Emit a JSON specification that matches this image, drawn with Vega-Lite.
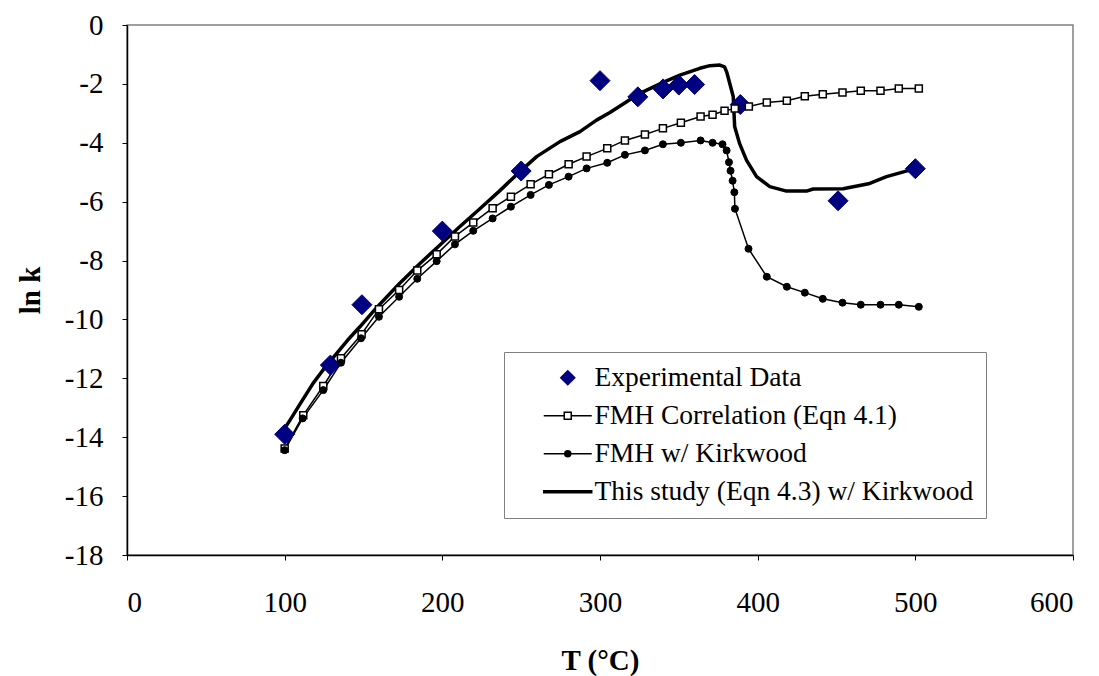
{
  "$schema": "https://vega.github.io/schema/vega-lite/v6.json",
  "width": 946,
  "height": 530,
  "autosize": {"type": "none"},
  "padding": {"left": 127, "top": 25, "right": 26, "bottom": 121},
  "background": "white",
  "config": {
    "font": "Liberation Serif",
    "view": {"stroke": "#808080", "strokeWidth": 1.5},
    "axis": {
      "grid": false,
      "domainColor": "#000000",
      "domainWidth": 1.5,
      "tickColor": "#000000",
      "tickWidth": 1,
      "tickSize": 5,
      "labelFont": "Liberation Serif",
      "labelFontSize": 29,
      "labelColor": "#000000",
      "titleFont": "Liberation Serif",
      "titleFontSize": 29,
      "titleFontWeight": "bold",
      "titleColor": "#000000"
    },
    "legend": {
      "labelFont": "Liberation Serif",
      "labelFontSize": 27.5,
      "labelColor": "#000000",
      "labelLimit": 0
    }
  },
  "data": {
    "values": [
      {"series": "Experimental Data", "T": 100, "lnk": -13.9},
      {"series": "Experimental Data", "T": 129, "lnk": -11.55},
      {"series": "Experimental Data", "T": 149, "lnk": -9.5},
      {"series": "Experimental Data", "T": 200, "lnk": -7.0},
      {"series": "Experimental Data", "T": 250, "lnk": -4.96},
      {"series": "Experimental Data", "T": 300, "lnk": -1.89},
      {"series": "Experimental Data", "T": 324, "lnk": -2.44},
      {"series": "Experimental Data", "T": 340, "lnk": -2.17},
      {"series": "Experimental Data", "T": 350, "lnk": -2.04},
      {"series": "Experimental Data", "T": 360, "lnk": -2.02},
      {"series": "Experimental Data", "T": 389, "lnk": -2.7},
      {"series": "Experimental Data", "T": 451, "lnk": -5.97},
      {"series": "Experimental Data", "T": 500, "lnk": -4.88},

      {"series": "FMH Correlation (Eqn 4.1)", "T": 100, "lnk": -14.38},
      {"series": "FMH Correlation (Eqn 4.1)", "T": 111.8, "lnk": -13.25},
      {"series": "FMH Correlation (Eqn 4.1)", "T": 124.5, "lnk": -12.26},
      {"series": "FMH Correlation (Eqn 4.1)", "T": 135.7, "lnk": -11.32},
      {"series": "FMH Correlation (Eqn 4.1)", "T": 148.8, "lnk": -10.5},
      {"series": "FMH Correlation (Eqn 4.1)", "T": 159.8, "lnk": -9.65},
      {"series": "FMH Correlation (Eqn 4.1)", "T": 172.6, "lnk": -9.0},
      {"series": "FMH Correlation (Eqn 4.1)", "T": 184.1, "lnk": -8.34},
      {"series": "FMH Correlation (Eqn 4.1)", "T": 196.4, "lnk": -7.79},
      {"series": "FMH Correlation (Eqn 4.1)", "T": 208, "lnk": -7.18},
      {"series": "FMH Correlation (Eqn 4.1)", "T": 219.6, "lnk": -6.71},
      {"series": "FMH Correlation (Eqn 4.1)", "T": 231.9, "lnk": -6.22},
      {"series": "FMH Correlation (Eqn 4.1)", "T": 243.5, "lnk": -5.83},
      {"series": "FMH Correlation (Eqn 4.1)", "T": 256, "lnk": -5.41},
      {"series": "FMH Correlation (Eqn 4.1)", "T": 267.6, "lnk": -5.07},
      {"series": "FMH Correlation (Eqn 4.1)", "T": 280.1, "lnk": -4.73},
      {"series": "FMH Correlation (Eqn 4.1)", "T": 291.5, "lnk": -4.47},
      {"series": "FMH Correlation (Eqn 4.1)", "T": 304.6, "lnk": -4.19},
      {"series": "FMH Correlation (Eqn 4.1)", "T": 315.8, "lnk": -3.92},
      {"series": "FMH Correlation (Eqn 4.1)", "T": 328.5, "lnk": -3.72},
      {"series": "FMH Correlation (Eqn 4.1)", "T": 339.9, "lnk": -3.51},
      {"series": "FMH Correlation (Eqn 4.1)", "T": 351.3, "lnk": -3.32},
      {"series": "FMH Correlation (Eqn 4.1)", "T": 363.8, "lnk": -3.11},
      {"series": "FMH Correlation (Eqn 4.1)", "T": 371.4, "lnk": -3.05},
      {"series": "FMH Correlation (Eqn 4.1)", "T": 379, "lnk": -2.91},
      {"series": "FMH Correlation (Eqn 4.1)", "T": 385.5, "lnk": -2.84},
      {"series": "FMH Correlation (Eqn 4.1)", "T": 394.4, "lnk": -2.77},
      {"series": "FMH Correlation (Eqn 4.1)", "T": 405.8, "lnk": -2.63},
      {"series": "FMH Correlation (Eqn 4.1)", "T": 418.5, "lnk": -2.57},
      {"series": "FMH Correlation (Eqn 4.1)", "T": 429.9, "lnk": -2.42},
      {"series": "FMH Correlation (Eqn 4.1)", "T": 441.3, "lnk": -2.35},
      {"series": "FMH Correlation (Eqn 4.1)", "T": 453.8, "lnk": -2.29},
      {"series": "FMH Correlation (Eqn 4.1)", "T": 465.4, "lnk": -2.23},
      {"series": "FMH Correlation (Eqn 4.1)", "T": 477.9, "lnk": -2.23},
      {"series": "FMH Correlation (Eqn 4.1)", "T": 489.5, "lnk": -2.16},
      {"series": "FMH Correlation (Eqn 4.1)", "T": 502.2, "lnk": -2.16},

      {"series": "FMH w/ Kirkwood", "T": 100, "lnk": -14.44},
      {"series": "FMH w/ Kirkwood", "T": 111.4, "lnk": -13.36},
      {"series": "FMH w/ Kirkwood", "T": 124.5, "lnk": -12.4},
      {"series": "FMH w/ Kirkwood", "T": 135.7, "lnk": -11.47},
      {"series": "FMH w/ Kirkwood", "T": 148.4, "lnk": -10.64},
      {"series": "FMH w/ Kirkwood", "T": 159.8, "lnk": -9.91},
      {"series": "FMH w/ Kirkwood", "T": 172.6, "lnk": -9.23},
      {"series": "FMH w/ Kirkwood", "T": 184.1, "lnk": -8.62},
      {"series": "FMH w/ Kirkwood", "T": 196.4, "lnk": -8.02},
      {"series": "FMH w/ Kirkwood", "T": 208, "lnk": -7.45},
      {"series": "FMH w/ Kirkwood", "T": 219.6, "lnk": -6.99},
      {"series": "FMH w/ Kirkwood", "T": 231.9, "lnk": -6.57},
      {"series": "FMH w/ Kirkwood", "T": 243.5, "lnk": -6.17},
      {"series": "FMH w/ Kirkwood", "T": 256, "lnk": -5.77},
      {"series": "FMH w/ Kirkwood", "T": 267.6, "lnk": -5.43},
      {"series": "FMH w/ Kirkwood", "T": 280.1, "lnk": -5.15},
      {"series": "FMH w/ Kirkwood", "T": 291.5, "lnk": -4.87},
      {"series": "FMH w/ Kirkwood", "T": 304.6, "lnk": -4.68},
      {"series": "FMH w/ Kirkwood", "T": 315.8, "lnk": -4.41},
      {"series": "FMH w/ Kirkwood", "T": 328.5, "lnk": -4.26},
      {"series": "FMH w/ Kirkwood", "T": 339.9, "lnk": -4.05},
      {"series": "FMH w/ Kirkwood", "T": 351.3, "lnk": -4.0},
      {"series": "FMH w/ Kirkwood", "T": 363.8, "lnk": -3.92},
      {"series": "FMH w/ Kirkwood", "T": 371.4, "lnk": -4.0},
      {"series": "FMH w/ Kirkwood", "T": 377.7, "lnk": -4.05},
      {"series": "FMH w/ Kirkwood", "T": 380.3, "lnk": -4.26},
      {"series": "FMH w/ Kirkwood", "T": 381.8, "lnk": -4.66},
      {"series": "FMH w/ Kirkwood", "T": 382.8, "lnk": -4.95},
      {"series": "FMH w/ Kirkwood", "T": 384.1, "lnk": -5.29},
      {"series": "FMH w/ Kirkwood", "T": 385.2, "lnk": -5.68},
      {"series": "FMH w/ Kirkwood", "T": 385.6, "lnk": -6.24},
      {"series": "FMH w/ Kirkwood", "T": 394.2, "lnk": -7.6},
      {"series": "FMH w/ Kirkwood", "T": 405.8, "lnk": -8.55},
      {"series": "FMH w/ Kirkwood", "T": 418.5, "lnk": -8.89},
      {"series": "FMH w/ Kirkwood", "T": 429.9, "lnk": -9.09},
      {"series": "FMH w/ Kirkwood", "T": 441.3, "lnk": -9.3},
      {"series": "FMH w/ Kirkwood", "T": 453.8, "lnk": -9.43},
      {"series": "FMH w/ Kirkwood", "T": 465.4, "lnk": -9.5},
      {"series": "FMH w/ Kirkwood", "T": 477.9, "lnk": -9.5},
      {"series": "FMH w/ Kirkwood", "T": 489.5, "lnk": -9.5},
      {"series": "FMH w/ Kirkwood", "T": 502.2, "lnk": -9.57},

      {"series": "This study (Eqn 4.3) w/ Kirkwood", "T": 100, "lnk": -13.7},
      {"series": "This study (Eqn 4.3) w/ Kirkwood", "T": 103.4, "lnk": -13.42},
      {"series": "This study (Eqn 4.3) w/ Kirkwood", "T": 110, "lnk": -12.85},
      {"series": "This study (Eqn 4.3) w/ Kirkwood", "T": 118, "lnk": -12.17},
      {"series": "This study (Eqn 4.3) w/ Kirkwood", "T": 126, "lnk": -11.6},
      {"series": "This study (Eqn 4.3) w/ Kirkwood", "T": 133, "lnk": -11.15},
      {"series": "This study (Eqn 4.3) w/ Kirkwood", "T": 140, "lnk": -10.7},
      {"series": "This study (Eqn 4.3) w/ Kirkwood", "T": 147.7, "lnk": -10.25},
      {"series": "This study (Eqn 4.3) w/ Kirkwood", "T": 158.3, "lnk": -9.6},
      {"series": "This study (Eqn 4.3) w/ Kirkwood", "T": 173, "lnk": -8.77},
      {"series": "This study (Eqn 4.3) w/ Kirkwood", "T": 186, "lnk": -8.09},
      {"series": "This study (Eqn 4.3) w/ Kirkwood", "T": 198.5, "lnk": -7.47},
      {"series": "This study (Eqn 4.3) w/ Kirkwood", "T": 211, "lnk": -6.85},
      {"series": "This study (Eqn 4.3) w/ Kirkwood", "T": 224, "lnk": -6.23},
      {"series": "This study (Eqn 4.3) w/ Kirkwood", "T": 236, "lnk": -5.65},
      {"series": "This study (Eqn 4.3) w/ Kirkwood", "T": 249.2, "lnk": -4.98},
      {"series": "This study (Eqn 4.3) w/ Kirkwood", "T": 259.8, "lnk": -4.47},
      {"series": "This study (Eqn 4.3) w/ Kirkwood", "T": 274.6, "lnk": -3.96},
      {"series": "This study (Eqn 4.3) w/ Kirkwood", "T": 287.3, "lnk": -3.62},
      {"series": "This study (Eqn 4.3) w/ Kirkwood", "T": 297.8, "lnk": -3.23},
      {"series": "This study (Eqn 4.3) w/ Kirkwood", "T": 306.3, "lnk": -2.97},
      {"series": "This study (Eqn 4.3) w/ Kirkwood", "T": 325.3, "lnk": -2.32},
      {"series": "This study (Eqn 4.3) w/ Kirkwood", "T": 340, "lnk": -1.95},
      {"series": "This study (Eqn 4.3) w/ Kirkwood", "T": 350.7, "lnk": -1.7},
      {"series": "This study (Eqn 4.3) w/ Kirkwood", "T": 363.3, "lnk": -1.47},
      {"series": "This study (Eqn 4.3) w/ Kirkwood", "T": 369.7, "lnk": -1.38},
      {"series": "This study (Eqn 4.3) w/ Kirkwood", "T": 376, "lnk": -1.36},
      {"series": "This study (Eqn 4.3) w/ Kirkwood", "T": 379, "lnk": -1.42},
      {"series": "This study (Eqn 4.3) w/ Kirkwood", "T": 380.5, "lnk": -1.62},
      {"series": "This study (Eqn 4.3) w/ Kirkwood", "T": 384.5, "lnk": -2.43},
      {"series": "This study (Eqn 4.3) w/ Kirkwood", "T": 385.4, "lnk": -3.45},
      {"series": "This study (Eqn 4.3) w/ Kirkwood", "T": 388.5, "lnk": -4.02},
      {"series": "This study (Eqn 4.3) w/ Kirkwood", "T": 392.9, "lnk": -4.59},
      {"series": "This study (Eqn 4.3) w/ Kirkwood", "T": 399.3, "lnk": -5.15},
      {"series": "This study (Eqn 4.3) w/ Kirkwood", "T": 407.7, "lnk": -5.49},
      {"series": "This study (Eqn 4.3) w/ Kirkwood", "T": 418.3, "lnk": -5.64},
      {"series": "This study (Eqn 4.3) w/ Kirkwood", "T": 431, "lnk": -5.64},
      {"series": "This study (Eqn 4.3) w/ Kirkwood", "T": 435.2, "lnk": -5.57},
      {"series": "This study (Eqn 4.3) w/ Kirkwood", "T": 454.2, "lnk": -5.56},
      {"series": "This study (Eqn 4.3) w/ Kirkwood", "T": 471.1, "lnk": -5.38},
      {"series": "This study (Eqn 4.3) w/ Kirkwood", "T": 481.7, "lnk": -5.15},
      {"series": "This study (Eqn 4.3) w/ Kirkwood", "T": 496.5, "lnk": -4.93},
      {"series": "This study (Eqn 4.3) w/ Kirkwood", "T": 499.7, "lnk": -4.88}
    ]
  },
  "encoding": {
    "x": {
      "field": "T",
      "type": "quantitative",
      "scale": {"domain": [0, 600], "nice": false, "zero": false},
      "axis": {
        "title": "T  (°C)",
        "values": [0, 100, 200, 300, 400, 500, 600],
        "labelFont": "Liberation Serif",
        "titleFont": "Liberation Serif",
        "labelPadding": 28,
        "titlePadding": 29
      }
    },
    "y": {
      "field": "lnk",
      "type": "quantitative",
      "scale": {"domain": [-18, 0], "nice": false, "zero": false},
      "axis": {
        "title": "ln k",
        "values": [-18, -16, -14, -12, -10, -8, -6, -4, -2, 0],
        "labelExpr": "toString(datum.value)",
        "labelFont": "Liberation Serif",
        "titleFont": "Liberation Serif",
        "labelPadding": 19,
        "titlePadding": 19
      }
    }
  },
  "layer": [
    {
      "transform": [{"filter": "datum.series === 'FMH Correlation (Eqn 4.1)'"}],
      "mark": {"type": "line", "color": "#000000", "strokeWidth": 1.5}
    },
    {
      "transform": [{"filter": "datum.series === 'FMH w/ Kirkwood'"}],
      "mark": {"type": "line", "color": "#000000", "strokeWidth": 1.5}
    },
    {
      "transform": [{"filter": "datum.series === 'This study (Eqn 4.3) w/ Kirkwood'"}],
      "mark": {"type": "line", "color": "#000000", "strokeWidth": 3.5, "strokeJoin": "round"}
    },
    {
      "transform": [{"filter": "datum.series === 'Experimental Data'"}],
      "mark": {"type": "point", "shape": "diamond", "filled": true, "fill": "#000080", "stroke": "#000080", "strokeWidth": 1, "size": 400, "opacity": 1}
    },
    {
      "transform": [{"filter": "datum.series === 'FMH Correlation (Eqn 4.1)'"}],
      "mark": {"type": "point", "shape": "square", "filled": true, "fill": "#ffffff", "stroke": "#000000", "strokeWidth": 1.5, "size": 49, "opacity": 1}
    },
    {
      "transform": [{"filter": "datum.series === 'FMH w/ Kirkwood'"}],
      "mark": {"type": "point", "shape": "circle", "filled": true, "fill": "#000000", "stroke": "#000000", "strokeWidth": 1, "size": 49, "opacity": 1}
    },
    {
      "transform": [{"filter": "datum.T < -1000"}],
      "mark": {"type": "point", "filled": true, "opacity": 1, "strokeWidth": 1.5},
      "encoding": {
        "shape": {
          "field": "series",
          "type": "nominal",
          "scale": {
            "domain": ["Experimental Data", "FMH Correlation (Eqn 4.1)", "FMH w/ Kirkwood", "This study (Eqn 4.3) w/ Kirkwood"],
            "range": [
              "M0,-0.7L0.7,0L0,0.7L-0.7,0Z",
              "M-2.4,0H-0.35M0.35,0H2.4M-0.35,-0.35H0.35V0.35H-0.35Z",
              "M-2.4,0H2.4M-0.3,0A0.3,0.3,0,1,0,0.3,0A0.3,0.3,0,1,0,-0.3,0Z",
              "M-2.4,-0.1H2.4V0.1H-2.4Z"
            ]
          },
          "legend": {
            "title": null,
            "orient": "none",
            "legendX": 377,
            "legendY": 327,
            "strokeColor": "#808080",
            "fillColor": "#ffffff",
            "padding": 12,
            "symbolSize": 400,
            "symbolOffset": 38,
            "labelOffset": 13,
            "rowPadding": 9,
            "symbolStrokeWidth": 1.5,
            "labelFont": "Liberation Serif",
            "labelFontSize": 27.5,
            "labelLimit": 0
          }
        },
        "fill": {
          "field": "series",
          "type": "nominal",
          "scale": {
            "domain": ["Experimental Data", "FMH Correlation (Eqn 4.1)", "FMH w/ Kirkwood", "This study (Eqn 4.3) w/ Kirkwood"],
            "range": ["#000080", "#ffffff", "#000000", "#000000"]
          }
        },
        "stroke": {
          "field": "series",
          "type": "nominal",
          "scale": {
            "domain": ["Experimental Data", "FMH Correlation (Eqn 4.1)", "FMH w/ Kirkwood", "This study (Eqn 4.3) w/ Kirkwood"],
            "range": ["#000080", "#000000", "#000000", "#000000"]
          }
        }
      }
    }
  ]
}
